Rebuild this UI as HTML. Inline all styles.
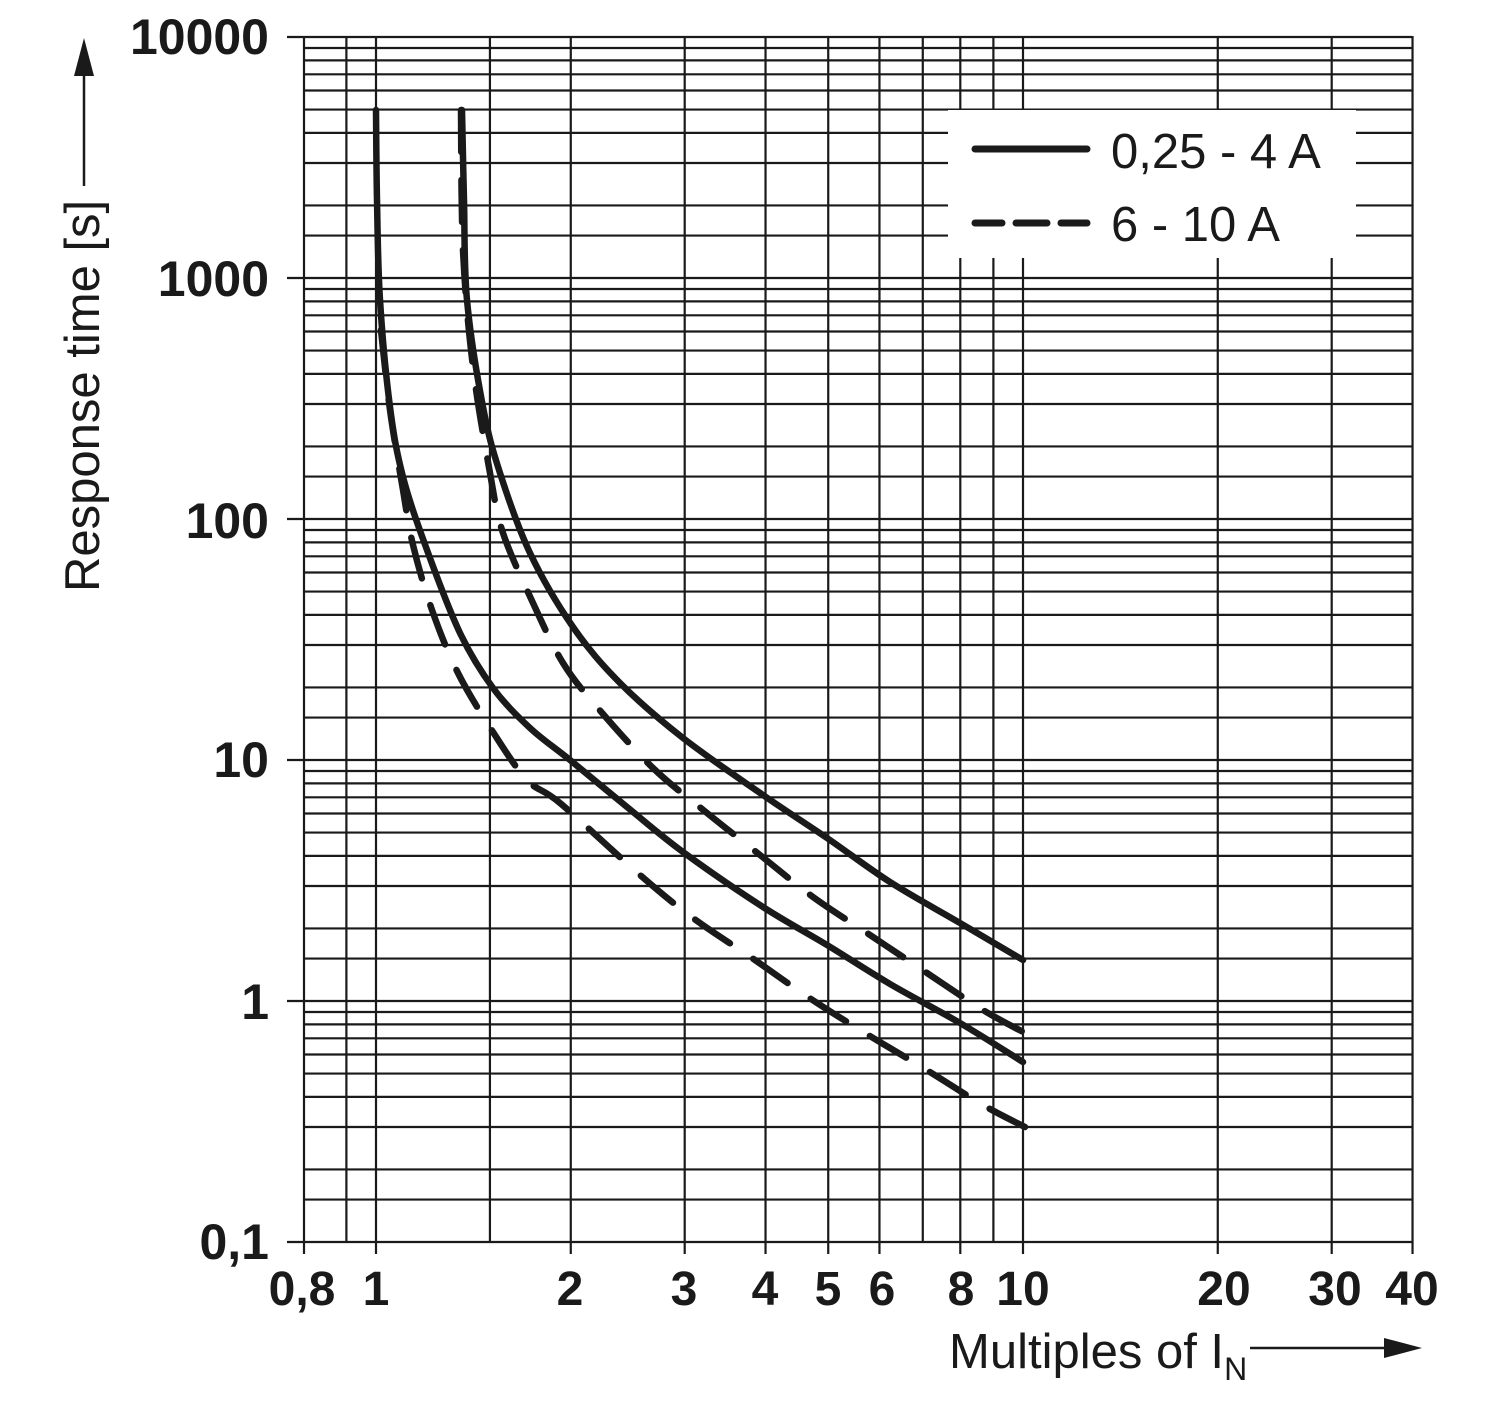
<!DOCTYPE html>
<html><head><meta charset="utf-8"><style>
html,body{margin:0;padding:0;background:#fff;}
svg{display:block;font-family:"Liberation Sans",Arial,sans-serif;}
</style></head><body>
<svg width="1500" height="1406" viewBox="0 0 1500 1406" xmlns="http://www.w3.org/2000/svg">
<g id="grid" stroke="#1a1a1a" stroke-width="2.2" fill="none"></g>
<g id="curves" stroke="#1a1a1a" stroke-width="6.5" fill="none" stroke-linecap="round" stroke-linejoin="round"></g>
<rect x="948" y="110" width="408" height="148" fill="#fff"/>
<line x1="975" y1="149" x2="1087" y2="149" stroke="#1a1a1a" stroke-width="7" stroke-linecap="round"/>
<g stroke="#1a1a1a" stroke-width="7" stroke-linecap="round">
<line x1="975" y1="223" x2="1002" y2="223"/><line x1="1016" y1="223" x2="1047" y2="223"/><line x1="1061" y1="223" x2="1087" y2="223"/>
</g>
<text x="1111" y="168" font-size="49" fill="#1a1a1a">0,25 - 4 A</text>
<text x="1111" y="241" font-size="49" fill="#1a1a1a">6 - 10 A</text>
<g font-size="50" font-weight="bold" fill="#1a1a1a" text-anchor="end">
<text x="269" y="54">10000</text>
<text x="269" y="296">1000</text>
<text x="269" y="538">100</text>
<text x="269" y="777">10</text>
<text x="269" y="1019">1</text>
<text x="269" y="1259">0,1</text>
</g>
<g font-size="48" font-weight="bold" fill="#1a1a1a" text-anchor="middle">
<text x="302" y="1305">0,8</text>
<text x="376" y="1305">1</text>
<text x="570" y="1305">2</text>
<text x="684" y="1305">3</text>
<text x="765" y="1305">4</text>
<text x="828" y="1305">5</text>
<text x="882" y="1305">6</text>
<text x="961" y="1305">8</text>
<text x="1023" y="1305">10</text>
<text x="1224" y="1305">20</text>
<text x="1335" y="1305">30</text>
<text x="1412" y="1305">40</text>
</g>
<text transform="translate(99,592) rotate(-90)" font-size="49" fill="#1a1a1a">Response time [s]</text>
<line x1="84" y1="186" x2="84" y2="70" stroke="#1a1a1a" stroke-width="2.5"/>
<polygon points="84,38 74,76 94,76" fill="#1a1a1a"/>
<text x="949" y="1368" font-size="49" fill="#1a1a1a">Multiples of I<tspan font-size="32" dy="12">N</tspan></text>
<line x1="1250" y1="1348" x2="1390" y2="1348" stroke="#1a1a1a" stroke-width="2.5"/>
<polygon points="1422,1348 1384,1338 1384,1358" fill="#1a1a1a"/>
</svg>
<script>
(function(){
var NS="http://www.w3.org/2000/svg";
var g=document.getElementById('grid');
function X(v){return 376+647*Math.log10(v);}
function Y(v){return 1001-241*Math.log10(v);}
function L(x1,y1,x2,y2){var l=document.createElementNS(NS,'line');l.setAttribute('x1',x1);l.setAttribute('y1',y1);l.setAttribute('x2',x2);l.setAttribute('y2',y2);g.appendChild(l);}
var xs=[0.9,1,1.5,2,3,4,5,6,7,8,9,10,20,30,40];
L(304,36,304,1254);
xs.forEach(function(v){var x=X(v);var ext=(v==1||v==2||v==3||v==4||v==5||v==6||v==8||v==10||v==20||v==30||v==40)?1254:1241;L(x,36,x,ext);});
var ms=[1,1.5,2,3,4,5,6,7,8,9];
for(var d=-1;d<=3;d++){ms.forEach(function(m){var v=m*Math.pow(10,d);var y=Y(v);L(m==1?287:304,y,1412,y);});}
L(287,Y(10000),1412,Y(10000));
var c=document.getElementById('curves');
function P(pts,dash){var s='M'+pts[0][0]+','+pts[0][1];
for(var i=0;i<pts.length-1;i++){var p0=pts[Math.max(0,i-1)],p1=pts[i],p2=pts[i+1],p3=pts[Math.min(pts.length-1,i+2)];
s+=' C'+(p1[0]+(p2[0]-p0[0])/6)+','+(p1[1]+(p2[1]-p0[1])/6)+' '+(p2[0]-(p3[0]-p1[0])/6)+','+(p2[1]-(p3[1]-p1[1])/6)+' '+p2[0]+','+p2[1];}
var p=document.createElementNS(NS,'path');p.setAttribute('d',s);if(dash)p.setAttribute('stroke-dasharray',dash);c.appendChild(p);}
// left solid
P([[376,110],[377,200],[380,300],[390,407],[403,477],[427,550],[460,633],[493,688],[530,728],[570,760],[627,807],[683,852],[763,907],[827,945],[890,984],[960,1023],[1023,1062]]);
// left dashed
P([[381,330],[390,410],[403,490],[413,545],[432,610],[458,673],[493,732],[527,780],[560,803],[640,875],[693,918],[752,958],[808,997],[865,1033],[925,1069],[983,1105],[1025,1127]],'42 28');
// right solid
P([[462,110],[464,200],[467,300],[483,407],[500,473],[530,553],[573,627],[620,683],[683,738],[763,795],[827,838],[890,882],[960,923],[1023,960]]);
// right dashed
P([[461,110],[463,250],[473,367],[490,473],[503,533],[533,603],[563,663],[597,707],[653,768],[707,813],[760,855],[813,897],[870,935],[927,973],[983,1010],[1025,1033]],'42 28');
})();
</script>
</body></html>
